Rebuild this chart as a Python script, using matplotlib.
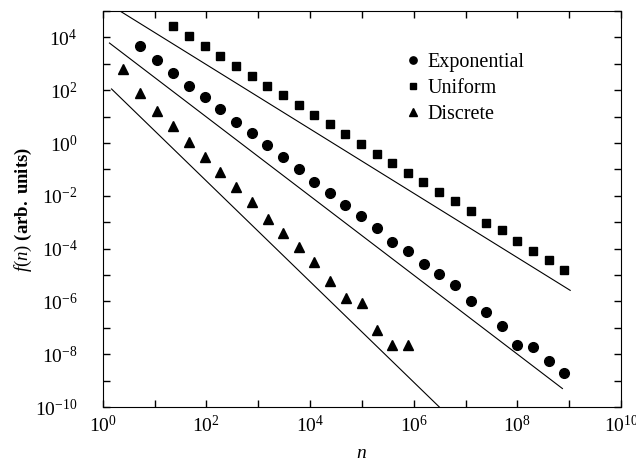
import matplotlib.pyplot as plt
import numpy as np

plt.rcParams['font.family'] = 'Liberation Serif'
plt.rcParams['mathtext.fontset'] = 'custom'
plt.rcParams['mathtext.rm'] = 'Liberation Serif'
plt.rcParams['mathtext.it'] = 'Liberation Serif:italic'
plt.rcParams['mathtext.bf'] = 'Liberation Serif:bold'

# log10 of n and f(n)
exp_logn = [0.72, 1.05, 1.36, 1.66, 1.97, 2.27, 2.57, 2.88, 3.17, 3.47, 3.78, 4.08, 4.38, 4.67,
            4.98, 5.29, 5.59, 5.90, 6.19, 6.49, 6.79, 7.10, 7.40, 7.71, 8.00, 8.30, 8.61, 8.91]
exp_logf = [3.66, 3.16, 2.65, 2.17, 1.74, 1.29, 0.81, 0.38, -0.08, -0.51, -0.98, -1.47, -1.89, -2.33,
            -2.78, -3.21, -3.74, -4.09, -4.57, -4.95, -5.36, -5.98, -6.39, -6.92, -7.65, -7.73, -8.26, -8.71]

uni_logn = [1.36, 1.67, 1.98, 2.27, 2.57, 2.88, 3.17, 3.48, 3.78, 4.08, 4.38, 4.67, 4.98,
            5.29, 5.59, 5.90, 6.18, 6.49, 6.79, 7.10, 7.40, 7.71, 8.00, 8.30, 8.61, 8.91]
uni_logf = [4.44, 4.06, 3.66, 3.28, 2.93, 2.55, 2.17, 1.82, 1.44, 1.08, 0.73, 0.35, -0.02,
            -0.41, -0.76, -1.14, -1.49, -1.87, -2.21, -2.58, -3.01, -3.31, -3.71, -4.09, -4.42, -4.80]

dis_logn = [0.39, 0.72, 1.05, 1.36, 1.66, 1.97, 2.27, 2.57, 2.88, 3.19, 3.47, 3.78, 4.08, 4.38,
            4.69, 5.00, 5.29, 5.59, 5.90]
dis_logf = [2.80, 1.89, 1.21, 0.66, 0.05, -0.53, -1.11, -1.67, -2.22, -2.87, -3.39, -3.94, -4.52, -5.23,
            -5.86, -6.06, -7.07, -7.65, -7.65]

# straight power-law guide lines (end points, log10)
fit_uni_logn = [0.36, 9.02]
fit_uni_logf = [4.97, -5.58]
fit_exp_logn = [0.13, 8.87]
fit_exp_logf = [3.79, -9.30]
fit_dis_logn = [0.17, 6.60]
fit_dis_logf = [2.05, -10.2]

fig = plt.figure(figsize=(6.36, 4.62), dpi=100)
ax = fig.add_axes([0.1615, 0.119, 0.8149, 0.857])

def p(v):
    return 10 ** np.array(v)

for lx, ly in [(fit_uni_logn, fit_uni_logf), (fit_exp_logn, fit_exp_logf), (fit_dis_logn, fit_dis_logf)]:
    ax.plot(p(lx), p(ly), color='black', linewidth=0.8)

ax.plot(p(exp_logn), p(exp_logf), 'o', color='black', markersize=7, label='Exponential')
ax.plot(p(uni_logn), p(uni_logf), 's', color='black', markersize=6, label='Uniform')
ax.plot(p(dis_logn), p(dis_logf), '^', color='black', markersize=7, label='Discrete')

ax.set_xscale('log')
ax.set_yscale('log')
ax.set_xlim(1, 1e10)
ax.set_ylim(1e-10, 1e5)

xt = [10.0 ** k for k in range(0, 11)]
ax.set_xticks(xt)
ax.set_xticklabels(['$10^{%d}$' % k if k % 2 == 0 else '' for k in range(0, 11)])
yt = [10.0 ** k for k in range(-10, 6)]
ax.set_yticks(yt)
ax.set_yticklabels(['$10^{%d}$' % k if k % 2 == 0 else '' for k in range(-10, 6)])
ax.minorticks_off()
ax.tick_params(direction='in', top=True, right=True, length=5, width=1, labelsize=14)
ax.tick_params(axis='x', pad=6)
ax.tick_params(axis='y', pad=18)

ax.set_xlabel('$n$', fontsize=14, labelpad=6)
ax.set_ylabel(r'$f(n)$ $\mathbf{(arb.\ units)}$', fontsize=13.5, labelpad=1)

ax.legend(loc='upper left', bbox_to_anchor=(0.552, 0.94), frameon=False, fontsize=14.5,
          handlelength=0.6, handletextpad=0.4, labelspacing=0.35, markerscale=0.75)

fig.savefig('out.png', dpi=100)
